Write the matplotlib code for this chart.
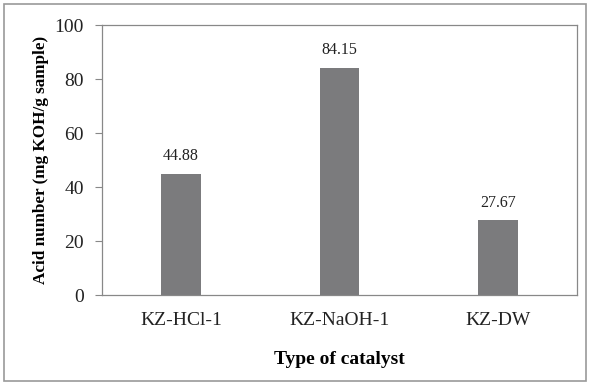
import matplotlib.pyplot as plt
from matplotlib.patches import Rectangle

plt.rcParams['font.family'] = ['Liberation Serif', 'DejaVu Serif']

catalysts = ['KZ-HCl-1', 'KZ-NaOH-1', 'KZ-DW']
acid_numbers = [44.88, 84.15, 27.67]

fig = plt.figure(figsize=(5.9, 3.85), dpi=100)
ax = fig.add_axes([102 / 590, 1 - 295 / 385, 475 / 590, 270 / 385])

x = range(len(catalysts))
ax.bar(x, acid_numbers, width=0.25, color='#7b7b7d')
for xi, v in zip(x, acid_numbers):
    ax.text(xi, v + 3.5, f'{v:.2f}', ha='center', va='bottom', fontsize=11.5, color='#222222')

ax.set_xlim(-0.5, 2.5)
ax.set_ylim(0, 100)
ax.set_yticks([0, 20, 40, 60, 80, 100])
ax.set_xticks(list(x))
ax.set_xticklabels(catalysts)
ax.tick_params(axis='x', length=0, pad=12, labelsize=14, colors='#222222')
ax.tick_params(axis='y', length=5, width=0.8, color='#888888', pad=8, labelsize=14, labelcolor='#222222')
for s in ax.spines.values():
    s.set_color('#888888')
    s.set_linewidth(0.9)

ax.set_ylabel('Acid number (mg KOH/g sample)', fontsize=12.3, fontweight='bold', labelpad=4)
ax.set_xlabel('Type of catalyst', fontsize=14, fontweight='bold', labelpad=16)

# outer frame
fig.patches.append(Rectangle((4 / 590, 4 / 385), 582 / 590, 377 / 385, transform=fig.transFigure,
                             fill=False, edgecolor='#999999', linewidth=1.2))

fig.savefig('out.png', dpi=100)
